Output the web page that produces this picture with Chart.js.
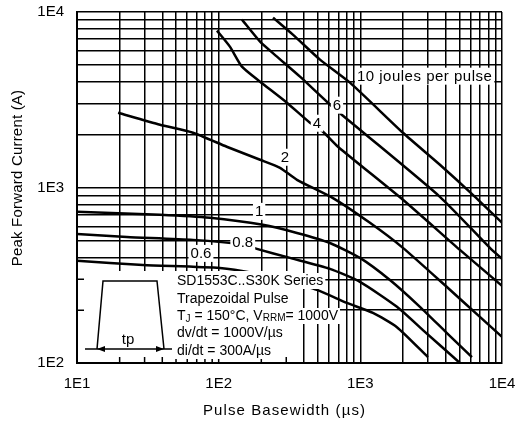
<!DOCTYPE html>
<html>
<head>
<meta charset="utf-8">
<script src="https://cdn.jsdelivr.net/npm/chart.js@4.4.1/dist/chart.umd.min.js"></script>
<style>
  body { margin: 0; background: #fff; }
  #chart { display: block; }
</style>
</head>
<body>
<canvas id="chart" width="524" height="429"></canvas>
<script>
// pulse basewidth (us) -> peak forward current (A), one pair per energy curve
const j10X = [242, 334, 519, 845, 1998, 3646, 6232, 10000];
const j10Y = [9292, 7431, 5352, 3957, 2051, 1348, 908, 629];
const j6X = [146, 196, 258, 375, 591, 754, 994, 3646, 8215, 10000];
const j6Y = [9049, 6778, 5567, 4281, 3042, 2565, 2134, 885, 453, 392];
const j4X = [97.3, 120, 146, 196, 303, 441, 545, 695, 1998, 5045, 10000];
const j4Y = [7832, 6348, 4882, 4009, 3042, 2339, 2078, 1707, 851, 441, 275];
const j2X = [19.5, 38.5, 65.9, 114, 196, 271, 357, 641, 1169, 1998, 4085, 6982, 10000];
const j2Y = [2668, 2279, 2051, 1707, 1439, 1295, 1106, 870, 629, 453, 271, 183, 141];
const j1X = [10, 38.5, 86.8, 205, 357, 610, 994, 1618, 2634, 4085, 6133];
const j1Y = [727, 699, 672, 613, 551, 483, 397, 297, 209, 148, 108];
const j08X = [10, 22.5, 65.9, 153, 186, 319, 610, 994, 1813, 2765, 5045];
const j08Y = [544, 523, 503, 471, 447, 397, 344, 290, 209, 154, 100];
const j06X = [10, 29.2, 102, 175, 294, 494, 804, 1227, 1813, 3000];
const j06Y = [382, 362, 348, 326, 294, 261, 220, 193, 160, 108];

// curve labels and where they sit (data coords)
const curveLabels = ['10 joules per pulse', '6', '4', '2', '1', '0.8', '0.6'];
const labelX = [946, 684, 494, 294, 193, 148, 75];
const labelY = [4337, 2964, 2339, 1497, 736, 490, 424];

const xDecades = [10, 100, 1000, 10000];
const xTickLabels = ['1E1', '1E2', '1E3', '1E4'];
const yDecades = [100, 1000, 10000];
const yTickLabels = ['1E2', '1E3', '1E4'];
const gridSteps = [1, 2, 3, 4, 5, 6, 7, 8, 9];
const xTitle = 'Pulse Basewidth (µs)';
const yTitle = 'Peak Forward Current (A)';

const family = '"Liberation Sans", Arial, sans-serif';

function logTicks(decades) {
    const out = [];
    decades.forEach((d, i) => {
        if (i === decades.length - 1) { out.push(d); return; }
        gridSteps.forEach(s => out.push(d * s));
    });
    return out.map(v => ({ value: v }));
}

const series = [[j10X, j10Y], [j6X, j6Y], [j4X, j4Y], [j2X, j2Y], [j1X, j1Y], [j08X, j08Y], [j06X, j06Y]];

const overlay = {
    id: 'overlay',
    afterDatasetsDraw(chart) {
        const { ctx, chartArea: ca, scales: { x, y } } = chart;
        ctx.save();

        // white inset box in the lower left, grid only shows as stubs
        const bx0 = ca.left + 1, bx1 = ca.left + 221, by0 = ca.bottom - 92, by1 = ca.bottom - 1;
        ctx.fillStyle = '#fff';
        ctx.fillRect(bx0, by0, bx1 - bx0, by1 - by0);
        ctx.strokeStyle = '#000';
        ctx.lineWidth = 1.5;
        ctx.beginPath();
        x.ticks.forEach(t => {
            const px = x.getPixelForValue(t.value);
            if (px > bx0 + 2 && px < bx1) { ctx.moveTo(px, ca.bottom); ctx.lineTo(px, ca.bottom - 6); }
        });
        y.ticks.forEach(t => {
            const py = y.getPixelForValue(t.value);
            if (py > by0 && py < by1 - 2) { ctx.moveTo(ca.left, py); ctx.lineTo(ca.left + 7, py); }
        });
        ctx.stroke();

        // trapezoid pulse sketch
        const L = ca.left, B = ca.bottom;
        ctx.lineWidth = 1.5;
        ctx.beginPath();
        ctx.moveTo(L + 8, B - 14); ctx.lineTo(L + 20, B - 14);
        ctx.lineTo(L + 26, B - 82); ctx.lineTo(L + 80, B - 82);
        ctx.lineTo(L + 87, B - 14); ctx.lineTo(L + 95, B - 14);
        ctx.moveTo(L + 20, B - 14); ctx.lineTo(L + 87, B - 14);
        ctx.stroke();
        ctx.fillStyle = '#000';
        ctx.beginPath();
        ctx.moveTo(L + 20, B - 14); ctx.lineTo(L + 28, B - 17); ctx.lineTo(L + 28, B - 11); ctx.closePath();
        ctx.moveTo(L + 87, B - 14); ctx.lineTo(L + 79, B - 17); ctx.lineTo(L + 79, B - 11); ctx.closePath();
        ctx.fill();
        ctx.font = '15px ' + family;
        ctx.textAlign = 'center';
        ctx.textBaseline = 'middle';
        ctx.fillText('tp', L + 51, B - 23);

        // inset notes
        ctx.textAlign = 'left';
        const tx = L + 100;
        const rows = [B - 82, B - 64, B - 47, B - 30, B - 12];
        const plain = (txt, row) => {
            ctx.font = '14px ' + family;
            const w = ctx.measureText(txt).width;
            ctx.fillStyle = '#fff';
            ctx.fillRect(tx - 2, rows[row] - 8, w + 4, 16);
            ctx.fillStyle = '#000';
            ctx.fillText(txt, tx, rows[row]);
        };
        plain('SD1553C..S30K Series', 0);
        plain('Trapezoidal Pulse', 1);
        plain('dv/dt = 1000V/µs', 3);
        plain('di/dt = 300A/µs', 4);
        // line with subscripts
        const parts = [['T', 14, 0], ['J', 10, 3], [' = 150°C, V', 14, 0], ['RRM', 10, 2], ['= 1000V', 14, 0]];
        let w = 0;
        parts.forEach(p => { ctx.font = p[1] + 'px ' + family; w += ctx.measureText(p[0]).width; });
        ctx.fillStyle = '#fff';
        ctx.fillRect(tx - 2, rows[2] - 8, w + 4, 16);
        ctx.fillStyle = '#000';
        let cx = tx;
        parts.forEach(p => {
            ctx.font = p[1] + 'px ' + family;
            ctx.fillText(p[0], cx, rows[2] + p[2]);
            cx += ctx.measureText(p[0]).width;
        });

        // curve labels
        ctx.font = '15px ' + family;
        curveLabels.forEach((txt, i) => {
            ctx.letterSpacing = i === 0 ? '0.5px' : '0px';
            const px = x.getPixelForValue(labelX[i]);
            const py = y.getPixelForValue(labelY[i]);
            const tw = ctx.measureText(txt).width;
            const left = i === 0 ? px : px - tw / 2;
            ctx.fillStyle = '#fff';
            ctx.fillRect(left - 2, py - 8, tw + 4, 17);
            ctx.fillStyle = '#000';
            ctx.fillText(txt, left, py + 1);
        });

        // axis titles, drawn here so they sit where the original has them
        ctx.letterSpacing = '1.1px';
        ctx.textAlign = 'center';
        ctx.fillText(xTitle, (ca.left + ca.right) / 2 - 5, 411);
        ctx.letterSpacing = '0.2px';
        ctx.translate(18, 178);
        ctx.rotate(-Math.PI / 2);
        ctx.fillText(yTitle, 0, 0);
        ctx.restore();
    }
};

new Chart(document.getElementById('chart'), {
    type: 'line',
    data: {
        datasets: series.map(([xs, ys]) => ({
            data: xs.map((v, i) => ({ x: v, y: ys[i] })),
            borderColor: '#000',
            borderWidth: 2.5,
            pointRadius: 0,
            tension: 0.2,
            fill: false
        }))
    },
    options: {
        responsive: false,
        animation: false,
        layout: { padding: { left: 8, right: 22, top: 12, bottom: 8 } },
        plugins: { legend: { display: false }, tooltip: { enabled: false } },
        scales: {
            x: {
                type: 'logarithmic',
                min: 10,
                max: 10000,
                afterBuildTicks: s => { s.ticks = logTicks(xDecades); },
                afterFit: s => { s.height = 58; s.paddingLeft = 0; s.paddingRight = 0; },
                ticks: {
                    autoSkip: false,
                    maxRotation: 0,
                    padding: 12,
                    color: '#000',
                    font: { size: 15, family },
                    callback: v => { const i = xDecades.indexOf(v); return i >= 0 ? xTickLabels[i] : ''; }
                },
                grid: { color: '#000', lineWidth: 1.5, drawTicks: false },
                border: { color: '#000', width: 2 },
                title: { display: false }
            },
            y: {
                type: 'logarithmic',
                min: 100,
                max: 10000,
                afterBuildTicks: s => { s.ticks = logTicks(yDecades); },
                afterFit: s => { s.width = 69; s.paddingTop = 0; s.paddingBottom = 0; },
                ticks: {
                    autoSkip: false,
                    padding: 13,
                    color: '#000',
                    font: { size: 15, family },
                    callback: v => { const i = yDecades.indexOf(v); return i >= 0 ? yTickLabels[i] : ''; }
                },
                grid: { color: '#000', lineWidth: 1.5, drawTicks: false },
                border: { color: '#000', width: 2 },
                title: { display: false }
            }
        }
    },
    plugins: [overlay]
});
</script>
</body>
</html>
